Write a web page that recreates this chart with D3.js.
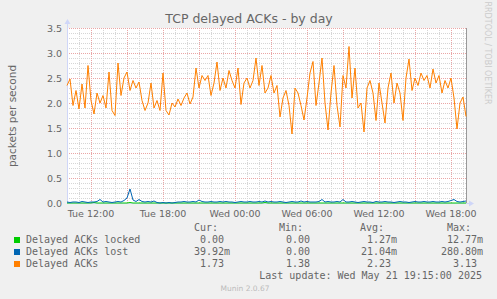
<!DOCTYPE html>
<html>
<head>
<meta charset="utf-8">
<script src="https://cdn.jsdelivr.net/npm/d3@7"></script>
<style>
  body { margin: 0; background: #f0f0f0; }
  svg { display: block; }
</style>
</head>
<body>
<svg id="chart" width="497" height="299"></svg>
<script>
// one sample every 15 minutes, starting Tue May 20 10:00
const startTime = new Date(2025, 4, 20, 10, 0);
const stepMinutes = 15;

const delayedAcks = [
  2.35, 2.48, 1.95, 2.25, 1.88, 2.38, 1.9, 2.75, 2.05, 1.78,
  2.2, 2.0, 2.15, 1.9, 2.62, 1.85, 1.75, 2.8, 2.15, 2.5,
  2.62, 2.25, 2.45, 2.3, 2.42, 2.05, 1.85, 2.0, 2.4, 1.9,
  2.05, 1.85, 2.6, 1.85, 1.76, 2.0, 1.92, 2.08, 1.95, 2.1,
  2.2, 1.98, 2.12, 2.7, 2.3, 2.55, 2.45, 2.55, 2.15, 2.4,
  2.82, 2.25, 2.5, 2.3, 2.65, 2.45, 2.3, 2.7, 1.97, 2.4,
  2.5, 2.3, 2.45, 2.9, 2.35, 2.75, 2.2, 2.3, 2.55, 2.2,
  2.35, 1.72, 2.1, 2.25, 1.95, 1.38, 2.3, 2.2, 1.95, 1.66,
  2.1, 2.6, 2.83, 1.95, 2.4, 2.9, 2.0, 1.46, 2.2, 2.75,
  1.95, 1.52, 2.55, 2.3, 3.13, 2.1, 2.7, 1.9, 2.0, 1.42,
  2.3, 2.45, 2.2, 1.65, 2.4, 2.0, 1.6, 2.3, 2.6, 2.0,
  2.4, 2.2, 1.65, 2.5, 2.88, 2.25, 2.5, 2.35, 2.6, 2.45,
  2.55, 2.3, 2.68, 2.4, 2.55, 2.2, 2.45, 2.3, 2.5, 2.1,
  1.48, 2.0, 2.12, 1.73
];

const delayedAcksLost = [
  0.02, 0.01, 0.02, 0.02, 0.01, 0.03, 0.02, 0.01, 0.02, 0.02,
  0.03, 0.07, 0.02, 0.03, 0.02, 0.01, 0.02, 0.03, 0.02, 0.05,
  0.1, 0.28, 0.06, 0.03, 0.07, 0.03, 0.02, 0.03, 0.02, 0.04,
  0.01, 0.0, 0.01, 0.0, 0.01, 0.0, 0.01, 0.02, 0.02, 0.03,
  0.02, 0.02, 0.03, 0.02, 0.06, 0.03, 0.02, 0.02, 0.03, 0.02,
  0.02, 0.03, 0.02, 0.03, 0.02, 0.02, 0.01, 0.02, 0.03, 0.02,
  0.02, 0.03, 0.02, 0.02, 0.03, 0.02, 0.04, 0.02, 0.03, 0.02,
  0.02, 0.03, 0.02, 0.01, 0.02, 0.03, 0.02, 0.02, 0.04, 0.02,
  0.03, 0.02, 0.02, 0.02, 0.03, 0.07, 0.02, 0.03, 0.02, 0.02,
  0.03, 0.02, 0.07, 0.02, 0.02, 0.03, 0.02, 0.01, 0.02, 0.03,
  0.02, 0.02, 0.01, 0.03, 0.02, 0.02, 0.03, 0.02, 0.02, 0.01,
  0.02, 0.03, 0.02, 0.02, 0.01, 0.02, 0.03, 0.02, 0.02, 0.03,
  0.02, 0.02, 0.03, 0.02, 0.02, 0.03, 0.02, 0.03, 0.05, 0.07,
  0.03, 0.02, 0.03, 0.04
];

const delayedAcksLocked = [
  0, 0, 0, 0, 0, 0, 0, 0, 0, 0.01,
  0, 0, 0, 0, 0, 0, 0, 0, 0, 0,
  0, 0.01, 0, 0, 0, 0, 0, 0, 0, 0,
  0, 0, 0, 0, 0, 0, 0, 0, 0, 0,
  0, 0, 0, 0, 0, 0, 0, 0, 0, 0,
  0, 0, 0, 0, 0, 0, 0, 0, 0, 0,
  0, 0, 0, 0, 0, 0, 0.01, 0, 0, 0,
  0, 0, 0, 0, 0, 0, 0, 0, 0, 0,
  0, 0, 0, 0, 0, 0, 0, 0, 0, 0,
  0, 0, 0, 0, 0, 0, 0, 0, 0, 0,
  0, 0, 0, 0, 0, 0, 0, 0, 0, 0,
  0, 0, 0, 0, 0, 0, 0, 0, 0, 0,
  0, 0, 0, 0, 0, 0, 0, 0, 0, 0,
  0, 0, 0, 0
];

const yTicks = [0, 0.5, 1, 1.5, 2, 2.5, 3, 3.5];
const yTickLabels = ["0.0", "0.5", "1.0", "1.5", "2.0", "2.5", "3.0", "3.5"];

const seriesNames = ["Delayed ACKs locked", "Delayed ACKs lost", "Delayed ACKs"];
const seriesColors = ["#00cc00", "#0066b3", "#ff8000"];
const curValues = ["0.00", "39.92m", "1.73"];
const minValues = ["0.00", "0.00", "1.38"];
const avgValues = ["1.27m", "21.04m", "2.23"];
const maxValues = ["12.77m", "280.80m", "3.13"];

const svg = d3.select("#chart");
const W = 497, H = 299;
const plotLeft = 67, plotRight = 467, plotTop = 28, plotBottom = 203;

const endTime = d3.timeMinute.offset(startTime, 400 * 5);
const x = d3.scaleTime().domain([startTime, endTime]).range([plotLeft, plotRight]);
const y = d3.scaleLinear().domain([0, 3.5]).range([plotBottom, plotTop]);
const timeAt = (i) => d3.timeMinute.offset(startTime, i * stepMinutes);

svg.append("rect").attr("width", W).attr("height", H).attr("fill", "#f0f0f0");
svg.append("rect")
  .attr("x", plotLeft).attr("y", plotTop)
  .attr("width", plotRight - plotLeft).attr("height", plotBottom - plotTop)
  .attr("fill", "#ffffff");

const grid = svg.append("g");
// minor grid
d3.range(0.1, 3.45, 0.1).forEach((v) => {
  const yy = Math.round(y(v)) + 0.5;
  grid.append("line").attr("x1", plotLeft).attr("x2", plotRight).attr("y1", yy).attr("y2", yy)
    .attr("stroke", "#d6d6d6").attr("stroke-dasharray", "1,1");
});
x.ticks(d3.timeHour.every(1)).forEach((t) => {
  const xx = Math.round(x(t)) + 0.5;
  grid.append("line").attr("x1", xx).attr("x2", xx).attr("y1", plotTop).attr("y2", plotBottom)
    .attr("stroke", "#d6d6d6").attr("stroke-dasharray", "1,1");
});
// major grid
yTicks.slice(1).forEach((v) => {
  const yy = Math.round(y(v)) + 0.5;
  grid.append("line").attr("x1", plotLeft).attr("x2", plotRight).attr("y1", yy).attr("y2", yy)
    .attr("stroke", "#eaa6a6").attr("stroke-dasharray", "1,1");
});
x.ticks(d3.timeHour.every(3)).forEach((t) => {
  const xx = Math.round(x(t)) + 0.5;
  grid.append("line").attr("x1", xx).attr("x2", xx).attr("y1", plotTop).attr("y2", plotBottom)
    .attr("stroke", "#eaa6a6").attr("stroke-dasharray", "1,1");
});

// right frame line
svg.append("line").attr("x1", plotRight - 0.5).attr("x2", plotRight - 0.5).attr("y1", plotTop).attr("y2", plotBottom)
  .attr("stroke", "#999999");

// tick labels
const labelFont = "DejaVu Sans, sans-serif";
yTicks.forEach((v, i) => {
  svg.append("text").attr("x", 62).attr("y", y(v) + 3.5)
    .attr("text-anchor", "end").attr("font-family", labelFont).attr("font-size", 9.5)
    .attr("fill", "#666666").text(yTickLabels[i]);
});
const fmt = d3.timeFormat("%a %H:%M");
x.ticks(d3.timeHour.every(6)).forEach((t) => {
  svg.append("text").attr("x", x(t)).attr("y", 217)
    .attr("text-anchor", "middle").attr("font-family", labelFont).attr("font-size", 9.5)
    .attr("fill", "#666666").text(fmt(t));
});

// axes with arrows
const axisColor = "#cfd6f8";
svg.append("line").attr("x1", plotLeft + 0.5).attr("x2", plotLeft + 0.5).attr("y1", plotBottom + 0.5).attr("y2", plotTop - 5)
  .attr("stroke", axisColor);
svg.append("line").attr("x1", plotLeft).attr("x2", plotRight + 3).attr("y1", plotBottom + 0.5).attr("y2", plotBottom + 0.5)
  .attr("stroke", axisColor);
svg.append("path").attr("d", `M${plotLeft - 2.5},${plotTop - 4} L${plotLeft + 3.5},${plotTop - 4} L${plotLeft + 0.5},${plotTop - 9} Z`)
  .attr("fill", axisColor);
svg.append("path").attr("d", `M${plotRight + 2},${plotBottom - 2.5} L${plotRight + 2},${plotBottom + 3.5} L${plotRight + 7},${plotBottom + 0.5} Z`)
  .attr("fill", axisColor);

// series lines
const line = d3.line().x((d, i) => x(timeAt(i))).y((d) => y(d));
[delayedAcksLocked, delayedAcksLost, delayedAcks].forEach((data, k) => {
  svg.append("path").datum(data).attr("d", line)
    .attr("fill", "none").attr("stroke", seriesColors[k]).attr("stroke-width", 1)
    .attr("stroke-linejoin", "round");
});

// title and side texts
svg.append("text").attr("x", 249).attr("y", 23).attr("text-anchor", "middle")
  .attr("font-family", labelFont).attr("font-size", 12.5).attr("fill", "#666666")
  .text("TCP delayed ACKs - by day");
svg.append("text").attr("transform", "translate(16,116) rotate(-90)").attr("text-anchor", "middle")
  .attr("font-family", labelFont).attr("font-size", 10.5).attr("fill", "#666666")
  .text("packets per second");
svg.append("text").attr("transform", "translate(485,53) rotate(90)").attr("text-anchor", "middle")
  .attr("font-family", labelFont).attr("font-size", 8).attr("fill", "#cccccc")
  .text("RRDTOOL / TOBI OETIKER");

// legend
const mono = "DejaVu Sans Mono, monospace";
const legend = svg.append("g").attr("font-family", mono).attr("font-size", 10).attr("fill", "#666666");
[["Cur:", 194], ["Min:", 279], ["Avg:", 360], ["Max:", 447]].forEach(([h, hx]) => {
  legend.append("text").attr("x", hx).attr("y", 230.5).text(h);
});
const colRight = [224, 310, 391, 477];
seriesNames.forEach((name, i) => {
  const yy = 243 + i * 12;
  legend.append("rect").attr("x", 14).attr("y", yy - 6).attr("width", 6).attr("height", 6)
    .attr("fill", seriesColors[i]);
  legend.append("text").attr("x", 26).attr("y", yy).text(name);
  [curValues[i], minValues[i], avgValues[i], maxValues[i]].forEach((v, c) => {
    const hasUnit = v.endsWith("m");
    const num = hasUnit ? v.slice(0, -1) : v;
    legend.append("text").attr("x", colRight[c]).attr("y", yy).attr("text-anchor", "end").text(num);
    if (hasUnit) legend.append("text").attr("x", colRight[c]).attr("y", yy).text("m");
  });
});
legend.append("text").attr("x", 482).attr("y", 279).attr("text-anchor", "end")
  .text("Last update: Wed May 21 19:15:00 2025");

svg.append("text").attr("x", 245).attr("y", 291).attr("text-anchor", "middle")
  .attr("font-family", labelFont).attr("font-size", 7.5).attr("fill", "#bbbbbb")
  .text("Munin 2.0.67");
</script>
</body>
</html>
